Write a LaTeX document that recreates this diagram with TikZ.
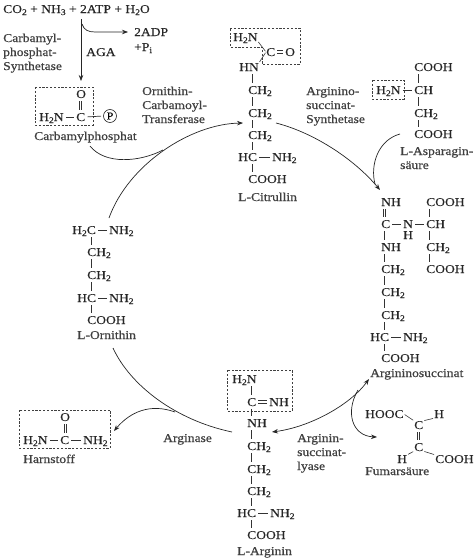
\documentclass[tikz,border=0pt]{standalone}
\usepackage{fontspec}
\usetikzlibrary{arrows.meta}
\setmainfont[FakeStretch=1.13,FakeBold=0.25]{Liberation Serif}
\newfontfamily\labfont[FakeStretch=1.13,FakeBold=0.7]{Liberation Serif}
\newcommand\dn[1]{\raisebox{-2pt}{\fontsize{8.5}{8.5}\selectfont #1}}
\newcommand\tx[4]{\node[txt] (#1) at (#2,#3) {#4};}
\newcommand\lb[4]{\node[lab] (#1) at (#2,#3) {#4};}
\newcommand\vb[3]{\draw[bond] (#1.south -| #3,0) -- (#2.north -| #3,0);}
\newcommand\vd[3]{\draw[bond] ([xshift=-1.2pt]#1.south -| #3,0) -- ([xshift=-1.2pt]#2.north -| #3,0);
  \draw[bond] ([xshift=1.2pt]#1.south -| #3,0) -- ([xshift=1.2pt]#2.north -| #3,0);}
\newcommand\hb[2]{\draw[hbond] (#1.east) -- (#2.west);}
\newcommand\hd[2]{\draw[hbond] ([yshift=1.3pt]#1.east) -- ([yshift=1.3pt]#2.west);
  \draw[hbond] ([yshift=-1.3pt]#1.east) -- ([yshift=-1.3pt]#2.west);}
\tikzset{
  txt/.style={anchor=west,inner sep=0pt,text height=8pt,text depth=0pt,text=black!85,font=\fontsize{12}{12}\selectfont},
  lab/.style={txt,text=black!75,font=\fontsize{12}{12}\selectfont\labfont},
  bond/.style={draw=black!80,line width=0.6pt,shorten <=3pt,shorten >=3pt},
  hbond/.style={draw=black!80,line width=0.7pt,shorten <=2pt,shorten >=2pt},
  diag/.style={draw=black!80,line width=0.6pt,shorten <=1pt,shorten >=1pt},
  dbox/.style={draw=black!75,line width=0.8pt,dash pattern=on 2.2pt off 1.6pt},
  flow/.style={draw=black!85,line width=0.7pt},
  tip/.style={-{Stealth[length=6pt,width=4.5pt]}},
}
\begin{document}
\begin{tikzpicture}[x=1pt,y=-1pt]
\useasboundingbox (0,0) rectangle (475,560);
% top reaction
\tx{top}{3}{9}{CO\dn{2} + NH\dn{3} + 2ATP + H\dn{2}O}
\tx{adp}{134}{32}{2ADP}
\tx{pi}{134}{47}{+P\dn{i}}
\tx{aga}{86}{52}{AGA}
\lb{cps1}{3}{38}{Carbamyl-}
\lb{cps2}{3}{52}{phosphat-}
\lb{cps3}{3}{66}{Synthetase}
\coordinate (a1) at (81,19); \coordinate (a2) at (81,81);
\coordinate (b1) at (82,24); \coordinate (b2) at (128,32);
\draw[flow,tip] (a1) -- (a2);
\draw[flow,tip] (b1) .. controls (84,30) and (88,32) .. (95,32) -- (b2);
% carbamylphosphat
\draw[dbox] (35,87) rectangle (93,125);
\tx{cpo}{76}{94}{O}
\tx{cpn}{39}{117}{H\dn{2}N}
\tx{cpc}{76}{117}{C}
\node[draw=black!85,circle,line width=0.6pt,inner sep=0pt,minimum size=13pt,font=\fontsize{10.5}{10.5}\selectfont] (cpp) at (110,116) {P};
\vd{cpo}{cpc}{80.5}
\hb{cpn}{cpc}
\draw[hbond] (cpc.east) -- (cpp.west);
\lb{cpl}{34}{136}{Carbamylphosphat}
% OCT
\lb{oct1}{142}{91}{Ornithin-}
\lb{oct2}{142}{105}{Carbamoyl-}
\lb{oct3}{142}{119}{Transferase}
% citrullin
\draw[dbox] (230,28) -- (300,28) -- (300,64) -- (262,64) -- (262,47) -- (230,47) -- cycle;
\tx{cin}{233}{37}{H\dn{2}N}
\tx{cic}{266}{52}{C}
\tx{cio}{285}{52}{O}
\tx{cihn}{239}{67}{HN}
\hd{cic}{cio}
\draw[diag] (cin.south east) -- (cic.west);
\draw[diag] (cic.west) -- (cihn.north east);
\tx{ci1}{248}{90}{CH\dn{2}}
\tx{ci2}{248}{113}{CH\dn{2}}
\tx{ci3}{248}{135}{CH\dn{2}}
\tx{cih}{238}{157}{HC}
\tx{cina}{272}{157}{NH\dn{2}}
\tx{cic2}{248}{179}{COOH}
\hb{cih}{cina}
\vb{cihn}{ci1}{252} \vb{ci1}{ci2}{252} \vb{ci2}{ci3}{252} \vb{ci3}{cih}{252} \vb{cih}{cic2}{252}
\lb{cil}{238}{197}{L-Citrullin}
% ASS
\lb{ass1}{306}{91}{Arginino-}
\lb{ass2}{306}{105}{succinat-}
\lb{ass3}{306}{119}{Synthetase}
% asparagin
\draw[dbox] (372,80) rectangle (404,99);
\tx{asc}{414}{67}{COOH}
\tx{asn}{376}{90}{H\dn{2}N}
\tx{asch}{414}{90}{CH}
\tx{as2}{414}{113}{CH\dn{2}}
\tx{asd}{414}{134}{COOH}
\hb{asn}{asch}
\vb{asc}{asch}{418} \vb{asch}{as2}{418} \vb{as2}{asd}{418}
\lb{asl1}{400}{151}{L-Asparagin-}
\lb{asl2}{400}{165}{säure}
% argininosuccinat
\tx{anh}{381}{202}{NH}
\tx{ac}{381}{224}{C}
\tx{an}{403}{224}{N}
\tx{ah}{403}{235}{H}
\tx{ach}{426}{224}{CH}
\tx{acoa}{426}{202}{COOH}
\tx{anh2}{381}{247}{NH}
\tx{ach2r}{426}{247}{CH\dn{2}}
\tx{acob}{426}{269}{COOH}
\tx{a1}{381}{269}{CH\dn{2}}
\tx{a2}{381}{292}{CH\dn{2}}
\tx{a3}{381}{315}{CH\dn{2}}
\tx{ahc}{370}{337}{HC}
\tx{ana}{403}{337}{NH\dn{2}}
\tx{aco}{381}{358}{COOH}
\lb{al}{370}{373}{Argininosuccinat}
\vd{anh}{ac}{384.5}
\hb{ac}{an} \hb{an}{ach} \hb{ahc}{ana}
\vb{acoa}{ach}{429} \vb{ach}{ach2r}{429} \vb{ach2r}{acob}{429}
\vb{ac}{anh2}{384.5} \vb{anh2}{a1}{384.5} \vb{a1}{a2}{384.5} \vb{a2}{a3}{384.5} \vb{a3}{ahc}{384.5} \vb{ahc}{aco}{384.5}
% fumarsaeure
\tx{fho}{365}{414}{HOOC}
\tx{fc1}{414}{425}{C}
\tx{fh1}{434}{414}{H}
\tx{fc2}{414}{447}{C}
\tx{fh2}{397}{459}{H}
\tx{fco}{435}{459}{COOH}
\lb{fl}{365}{471}{Fumarsäure}
\vd{fc1}{fc2}{418.5}
\draw[diag] (fho.east) -- (fc1.north west);
\draw[diag] (fc1.north east) -- (fh1.south west);
\draw[diag] (fh2.north east) -- (fc2.south west);
\draw[diag] (fc2.south east) -- (fco.north west);
% arginin
\draw[dbox] (227,370) rectangle (292,411);
\tx{rn}{232}{379}{H\dn{2}N}
\tx{rc}{247}{402}{C}
\tx{rnh}{269}{402}{NH}
\tx{rhn}{247}{423}{NH}
\tx{r1}{247}{446}{CH\dn{2}}
\tx{r2}{247}{469}{CH\dn{2}}
\tx{r3}{247}{491}{CH\dn{2}}
\tx{rhc}{237}{513}{HC}
\tx{rna}{270}{513}{NH\dn{2}}
\tx{rco}{247}{535}{COOH}
\lb{rl}{237}{551}{L-Arginin}
\hd{rc}{rnh}
\hb{rhc}{rna}
\vb{rn}{rc}{251} \vb{rc}{rhn}{251} \vb{rhn}{r1}{251} \vb{r1}{r2}{251} \vb{r2}{r3}{251} \vb{r3}{rhc}{251} \vb{rhc}{rco}{251}
% ASL
\lb{asl3}{297}{438}{Arginin-}
\lb{asl4}{297}{452}{succinat-}
\lb{asl5}{297}{466}{lyase}
% harnstoff
\draw[dbox] (19,410) rectangle (110,448);
\tx{ho}{60}{417}{O}
\tx{hn}{23}{440}{H\dn{2}N}
\tx{hc}{60}{440}{C}
\tx{hna}{83}{440}{NH\dn{2}}
\lb{hl}{23}{459}{Harnstoff}
\vd{ho}{hc}{65}
\hb{hn}{hc} \hb{hc}{hna}
\lb{agl}{163}{438}{Arginase}
% ornithin
\tx{oh}{72}{230}{H\dn{2}C}
\tx{ona}{109}{230}{NH\dn{2}}
\tx{o1}{87}{252}{CH\dn{2}}
\tx{o2}{87}{275}{CH\dn{2}}
\tx{ohc}{77}{298}{HC}
\tx{onb}{109}{298}{NH\dn{2}}
\tx{oco}{87}{320}{COOH}
\lb{ol}{77}{335}{L-Ornithin}
\hb{oh}{ona} \hb{ohc}{onb}
\vb{oh}{o1}{91} \vb{o1}{o2}{91} \vb{o2}{ohc}{91} \vb{ohc}{oco}{91}
% cycle
\coordinate (c1) at (109,218); \coordinate (c2) at (243,123);
\coordinate (c3) at (276,123); \coordinate (c4) at (380,190);
\coordinate (c5) at (272,432); \coordinate (c6) at (369,379);
\coordinate (c7) at (232,432); \coordinate (c8) at (113,348);
\coordinate (d1) at (90,146); \coordinate (d2) at (163,150);
\coordinate (e1) at (400,134); \coordinate (e2) at (375,184);
\coordinate (f1) at (358,390); \coordinate (f2) at (377,437);
\coordinate (g1) at (175,412); \coordinate (g2) at (114,431);
\draw[flow,tip] (c1) .. controls (128,165) and (190,124) .. (c2);
\draw[flow,tip] (c3) .. controls (315,133) and (355,160) .. (c4);
\draw[flow,{Stealth[length=6pt,width=4.5pt]}-{Stealth[length=6pt,width=4.5pt]}] (c5) .. controls (310,427) and (350,405) .. (c6);
\draw[flow] (c7) .. controls (175,420) and (130,385) .. (c8);
\draw[flow] (d1) .. controls (105,165) and (140,162) .. (d2);
\draw[flow] (e1) .. controls (378,140) and (370,165) .. (e2);
\draw[flow,tip] (f1) .. controls (345,412) and (352,436) .. (f2);
\draw[flow,tip] (g1) .. controls (150,403) and (130,412) .. (g2);
\end{tikzpicture}
\end{document}
